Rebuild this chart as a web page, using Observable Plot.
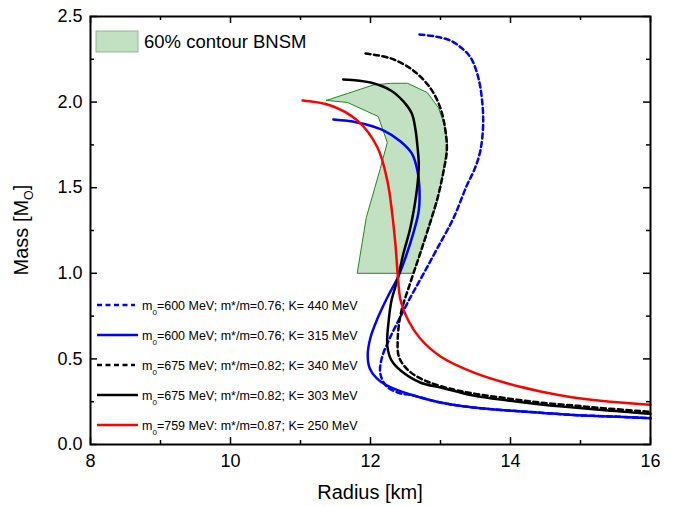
<!DOCTYPE html>
<html><head><meta charset="utf-8">
<script src="https://cdn.jsdelivr.net/npm/d3@7"></script>
<script src="https://cdn.jsdelivr.net/npm/@observablehq/plot@0.6"></script>
<style>body{margin:0;background:#fff;} #chart{position:relative;width:681px;height:506px;}</style>
</head><body><div id="chart"></div>
<script>
const FONT = "Liberation Sans, Arial, sans-serif";

// Tick values
const xMajor = [8, 10, 12, 14, 16];
const xMinor = [9, 11, 13, 15];
const yMajor = [0, 0.5, 1.0, 1.5, 2.0, 2.5];
const yMinor = [0.25, 0.75, 1.25, 1.75, 2.25];

// Series: [radius km, mass Msun]
const k440 = [[12.70,2.395],[12.93,2.383],[13.14,2.36],[13.31,2.313],[13.43,2.261],[13.51,2.185],[13.57,2.085],[13.61,1.893],[13.57,1.717],[13.49,1.612],[13.37,1.507],[13.19,1.326],[12.96,1.15],[12.76,0.999],[12.57,0.859],[12.40,0.724],[12.26,0.607],[12.16,0.502],[12.14,0.415],[12.23,0.339],[12.43,0.298],[12.57,0.29],[13.0,0.245],[13.47,0.216],[13.96,0.199],[14.43,0.186],[14.90,0.172],[15.43,0.164],[15.93,0.155],[16.0,0.154]];
const k315 = [[11.47,1.898],[11.81,1.881],[12.19,1.834],[12.43,1.77],[12.59,1.70],[12.67,1.60],[12.70,1.484],[12.69,1.367],[12.61,1.232],[12.51,1.104],[12.39,0.975],[12.24,0.859],[12.10,0.736],[12.0,0.625],[11.96,0.52],[11.99,0.444],[12.09,0.386],[12.29,0.333],[12.57,0.292],[13.0,0.245],[13.47,0.216],[13.96,0.199],[14.43,0.186],[14.90,0.172],[15.43,0.164],[15.93,0.155],[16.0,0.154]];
const k340 = [[11.93,2.284],[12.29,2.255],[12.61,2.185],[12.86,2.079],[13.0,1.963],[13.07,1.834],[13.09,1.717],[13.04,1.589],[12.96,1.443],[12.83,1.268],[12.70,1.104],[12.57,0.946],[12.44,0.777],[12.39,0.625],[12.41,0.508],[12.56,0.426],[12.81,0.368],[13.19,0.321],[13.47,0.298],[13.96,0.269],[14.43,0.245],[14.90,0.228],[15.39,0.21],[15.93,0.193],[16.0,0.191]];
const k303 = [[11.61,2.132],[12.0,2.114],[12.29,2.068],[12.47,2.004],[12.59,1.933],[12.64,1.846],[12.67,1.746],[12.69,1.63],[12.67,1.513],[12.63,1.396],[12.56,1.25],[12.47,1.116],[12.39,0.97],[12.30,0.841],[12.26,0.724],[12.24,0.578],[12.30,0.491],[12.43,0.432],[12.71,0.362],[13.0,0.333],[13.47,0.286],[13.96,0.257],[14.43,0.234],[14.90,0.216],[15.39,0.199],[15.93,0.181],[16.0,0.18]];
const k250 = [[11.03,2.009],[11.43,1.98],[11.81,1.893],[12.10,1.735],[12.24,1.542],[12.31,1.349],[12.36,1.151],[12.39,0.987],[12.43,0.841],[12.54,0.724],[12.71,0.619],[13.0,0.514],[13.47,0.421],[13.96,0.356],[14.43,0.31],[14.90,0.275],[15.39,0.251],[15.93,0.234],[16.0,0.232]];
const contour = [[11.37,2.01],[11.67,2.05],[12.04,2.10],[12.29,2.11],[12.53,2.11],[12.81,2.056],[12.97,1.968],[13.07,1.85],[13.10,1.758],[13.04,1.60],[12.96,1.425],[12.81,1.232],[12.61,1.0],[11.81,1.0],[11.94,1.326],[12.14,1.612],[12.24,1.764],[12.11,1.916],[11.67,1.998],[11.37,2.01]];

const legendM0 = ["600", "600", "675", "675", "759"];
const legendSep = [";", ";", ";", ";", ":"];
const legendMstar = ["0.76", "0.76", "0.82", "0.82", "0.87"];
const legendK = ["440", "315", "340", "303", "250"];
const seriesList = [k440, k315, k340, k303, k250];
const seriesColor = ["#0000ff", "#0000ff", "#000000", "#000000", "#ff0000"];
const seriesDash = ["5,3.5", null, "5,3.5", null, null];
const contourLabel = "60% contour BNSM";

// Layout
const W = 681, H = 506, mL = 90, mR = 31, mT = 16, mB = 62;
const xDom = [8, 16], yDom = [0, 2.5];
const dxPx = (xDom[1] - xDom[0]) / (W - mL - mR); // data units per pixel
const dyPx = (yDom[1] - yDom[0]) / (H - mT - mB);
const MAJ = 7, MIN = 4;

const lineMarks = seriesList.map((s, i) => Plot.line(s, {
  x: d => d[0], y: d => d[1], stroke: seriesColor[i], strokeWidth: 2.5,
  strokeDasharray: seriesDash[i], curve: "catmull-rom"
}));

const tickStyle = {stroke: "#000", strokeWidth: 1.5};
const tickMarks = [
  ...[[xMajor, MAJ], [xMinor, MIN]].flatMap(([vals, len]) => [
    Plot.ruleX(vals, {x: d => d, y1: yDom[0], y2: yDom[0] + len * dyPx, ...tickStyle}),
    Plot.ruleX(vals, {x: d => d, y1: yDom[1], y2: yDom[1] - len * dyPx, ...tickStyle})
  ]),
  ...[[yMajor, MAJ], [yMinor, MIN]].flatMap(([vals, len]) => [
    Plot.ruleY(vals, {y: d => d, x1: xDom[0], x2: xDom[0] + len * dxPx, ...tickStyle}),
    Plot.ruleY(vals, {y: d => d, x1: xDom[1], x2: xDom[1] - len * dxPx, ...tickStyle})
  ])
];

const chart = Plot.plot({
  width: W, height: H,
  marginLeft: mL, marginRight: mR, marginTop: mT, marginBottom: mB,
  style: {fontFamily: FONT, fontSize: "18px", color: "#000", background: "#fff"},
  x: {domain: xDom},
  y: {domain: yDom},
  marks: [
    Plot.line(contour, {x: d => d[0], y: d => d[1], fill: "#c2e0c2", stroke: "#1f8a1f", strokeWidth: 1}),
    ...lineMarks,
    Plot.axisX({ticks: xMajor, tickSize: 0, tickPadding: 10, fontSize: 18, label: null}),
    Plot.axisY({ticks: yMajor, tickSize: 0, tickPadding: 8, fontSize: 18, label: null, tickFormat: d3.format(".1f")}),
    ...tickMarks,
    Plot.frame({stroke: "#000", strokeWidth: 2})
  ]
});
document.getElementById("chart").appendChild(chart);

const svg = d3.select(chart);

// Axis titles
svg.append("text").attr("x", mL + (W - mL - mR) / 2).attr("y", 499).attr("text-anchor", "middle")
  .attr("font-family", FONT).attr("font-size", 20).attr("fill", "#000").text("Radius [km]");
const yt = svg.append("text").attr("transform", `translate(28,${mT + (H - mT - mB) / 2}) rotate(-90)`).attr("text-anchor", "middle")
  .attr("font-family", FONT).attr("font-size", 20).attr("fill", "#000");
yt.append("tspan").text("Mass [M");
yt.append("tspan").attr("font-size", 12.5).attr("dy", 5).text("O");
yt.append("tspan").attr("dy", -5).text("]");

// Contour legend
const g = svg.append("g").attr("font-family", FONT).attr("fill", "#000").attr("text-anchor", "start");
g.append("rect").attr("x", 96).attr("y", 31).attr("width", 42).attr("height", 21)
  .attr("fill", "#c2e0c2").attr("stroke", "#8fb98f").attr("stroke-width", 1);
g.append("text").attr("x", 144).attr("y", 48).attr("font-size", 18.5).attr("text-anchor", "start").text(contourLabel);

// Series legend
seriesList.forEach((s, i) => {
  const y = 305 + i * 30;
  g.append("line").attr("x1", 97).attr("x2", seriesDash[i] ? 135 : 138).attr("y1", y).attr("y2", y)
    .attr("stroke", seriesColor[i]).attr("stroke-width", 2.5).attr("stroke-dasharray", seriesDash[i]);
  const t = g.append("text").attr("x", 142).attr("y", y + 5).attr("font-size", 12.5).attr("text-anchor", "start");
  t.append("tspan").text("m");
  t.append("tspan").attr("font-size", 8).attr("dy", 5).text("0");
  t.append("tspan").attr("dy", -5).text(`=${legendM0[i]} MeV${legendSep[i]} m*/m=${legendMstar[i]}; K= ${legendK[i]} MeV`);
});
</script></body></html>
